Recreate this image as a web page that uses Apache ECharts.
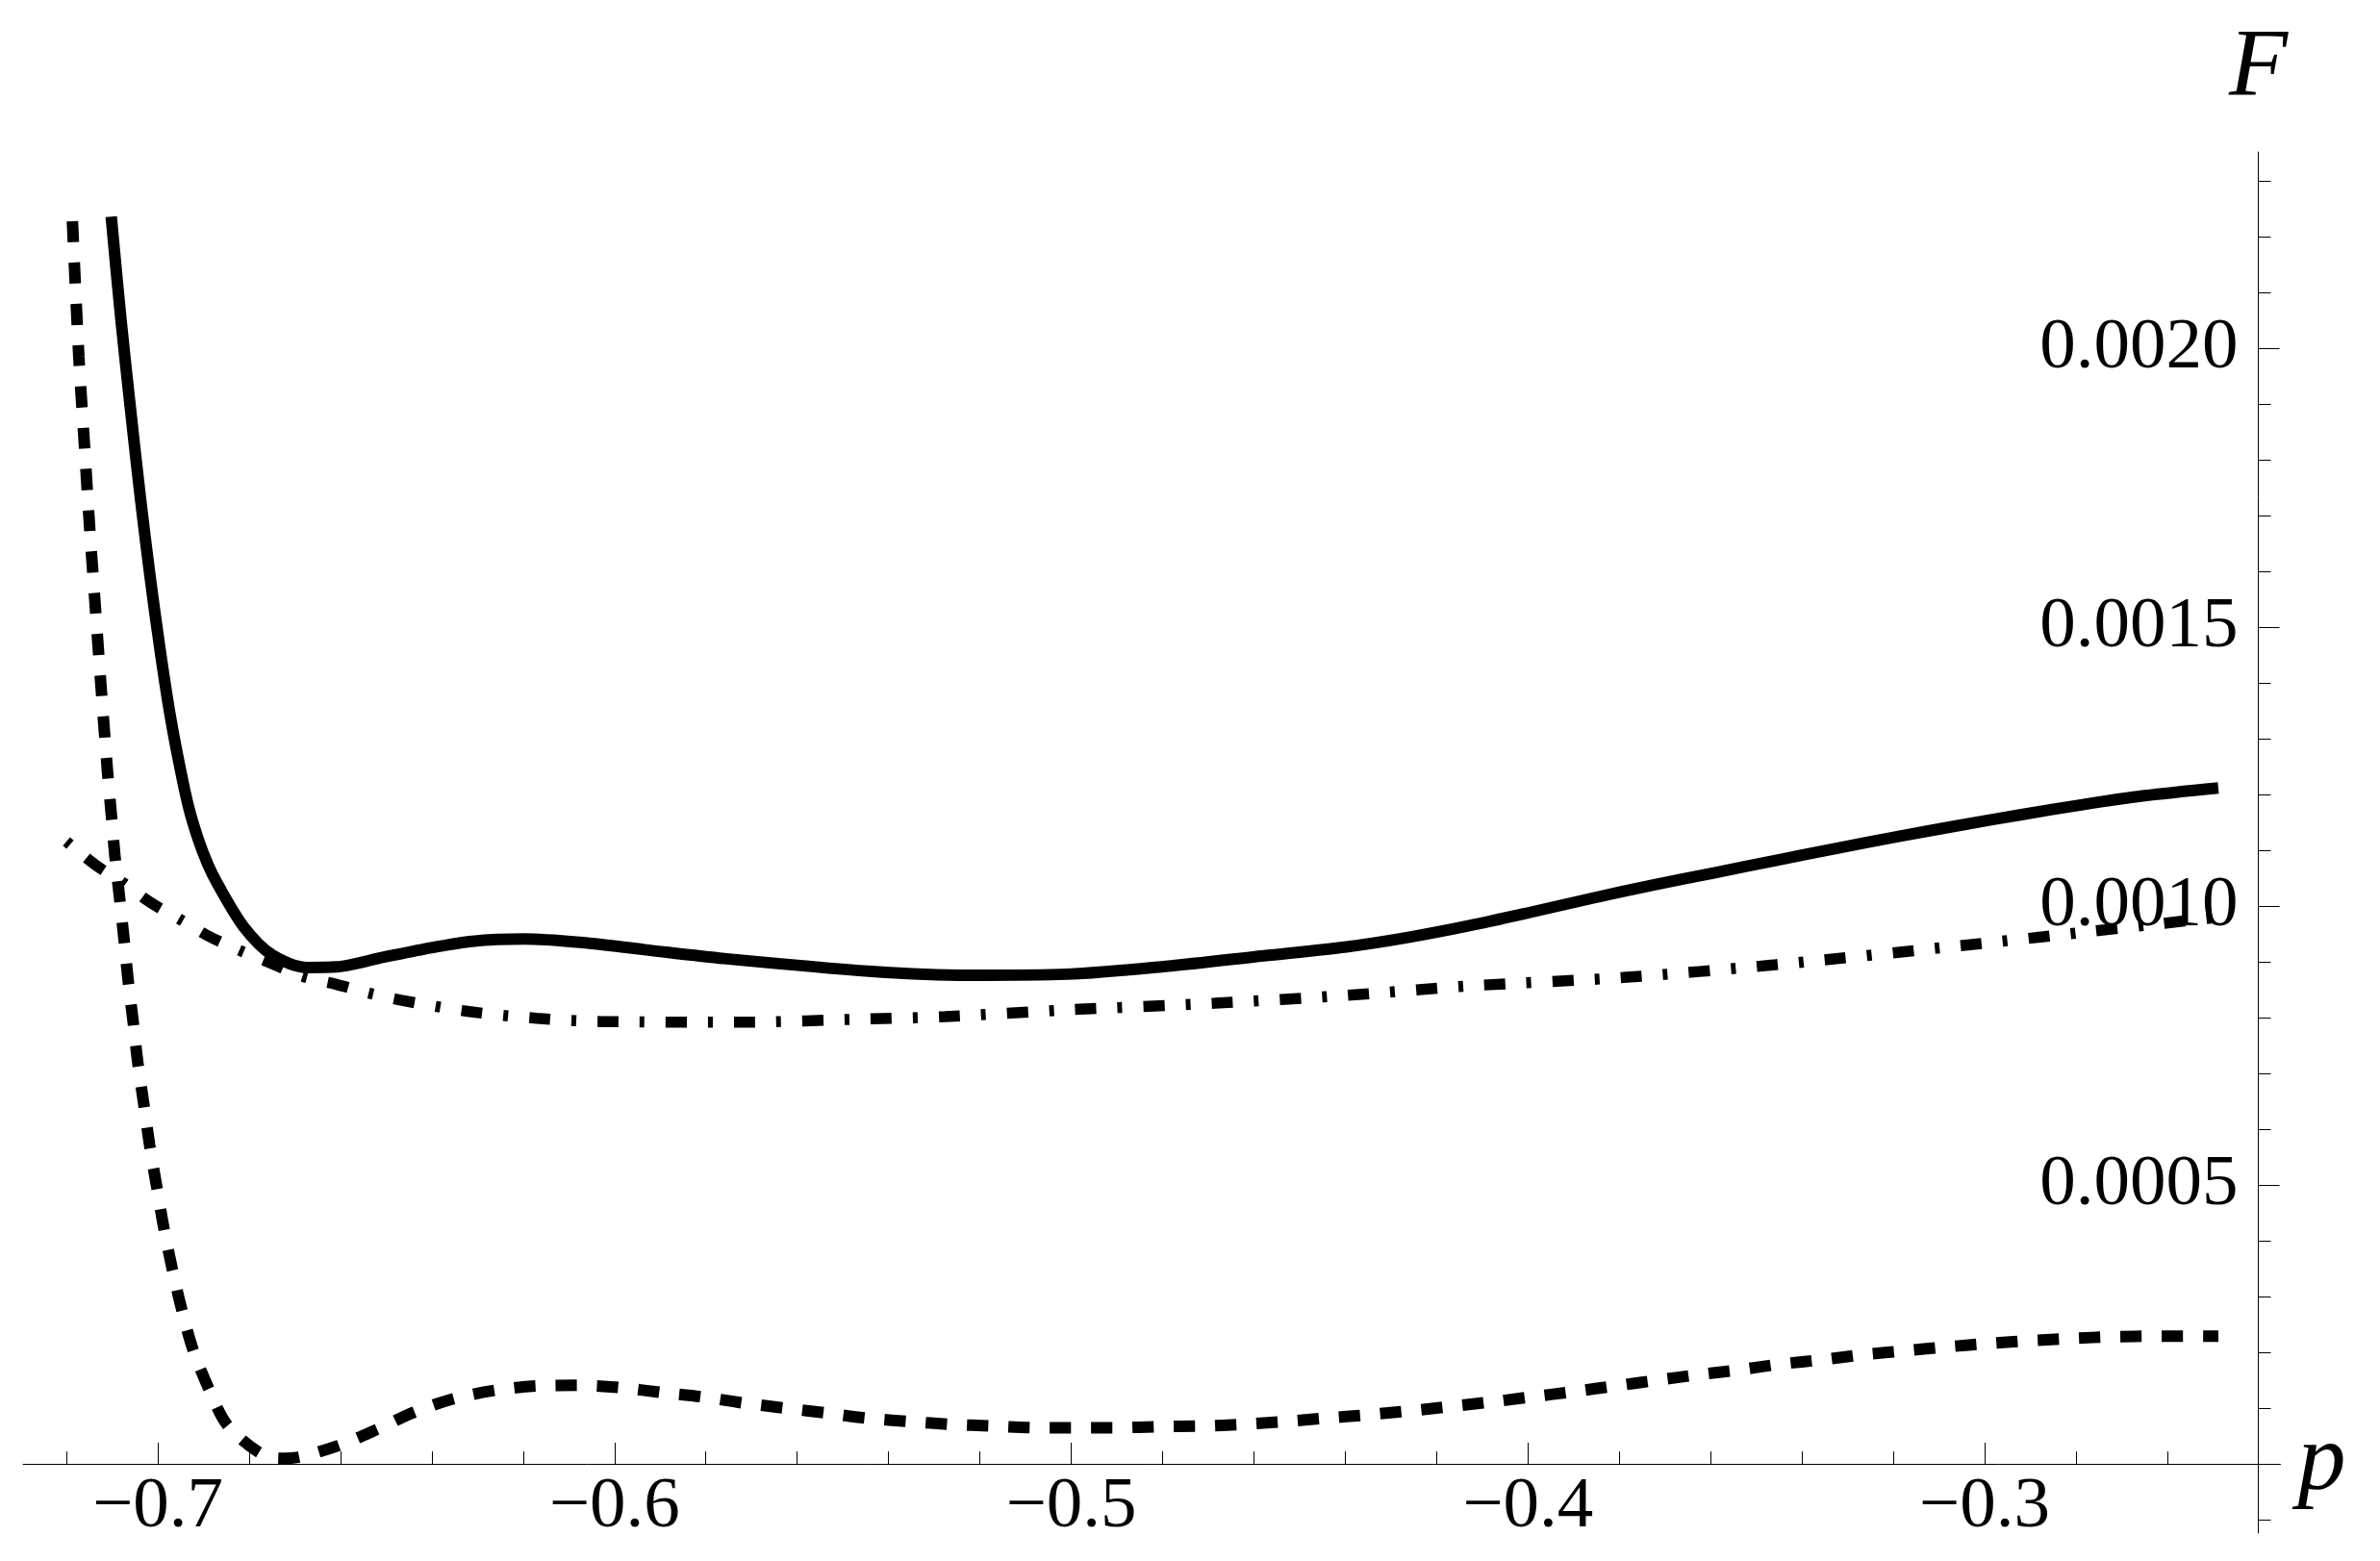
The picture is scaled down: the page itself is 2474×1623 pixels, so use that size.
<!DOCTYPE html>
<html>
<head>
<meta charset="utf-8">
<title>F versus p</title>
<script src="https://cdn.jsdelivr.net/npm/echarts@6/dist/echarts.min.js"></script>
<style>
  html, body { margin: 0; padding: 0; background: #fff; }
  #chart { width: 2474px; height: 1623px; }
</style>
</head>
<body>
<div id="chart"></div>
<script>
// values

// solid curve
var solidP = [-0.7102, -0.7081, -0.7059, -0.7038, -0.7017, -0.6996, -0.6975, -0.6954, -0.6933, -0.6912,
  -0.6891, -0.6868, -0.6812, -0.6749, -0.6672, -0.6609, -0.6503, -0.6398, -0.6312, -0.6199,
  -0.6076, -0.5935, -0.5760, -0.5437, -0.5223, -0.5008, -0.4793, -0.4578, -0.4397, -0.4262,
  -0.4128, -0.3994, -0.3860, -0.3725, -0.3590, -0.3457, -0.3322, -0.3188, -0.3053, -0.2919,
  -0.2785, -0.2650, -0.2488]
var solidF = [0.002236, 0.002054, 0.001885, 0.001731, 0.001591, 0.001465, 0.001352, 0.001259, 0.001179, 0.001121,
  0.001076, 0.001038, 0.000963, 0.000912, 0.000890, 0.000891, 0.000909, 0.000926, 0.000937, 0.000941,
  0.000935, 0.000922, 0.000906, 0.000883, 0.000876, 0.000878, 0.000892, 0.000911, 0.000927, 0.000944,
  0.000965, 0.000989, 0.001014, 0.001038, 0.001060, 0.001082, 0.001104, 0.001125, 0.001145, 0.001164,
  0.001182, 0.001198, 0.001212]

// dashed curve
var dashP = [-0.7187, -0.7173, -0.7161, -0.7150, -0.7137, -0.7124, -0.7110, -0.7102, -0.7094, -0.7084,
  -0.7074, -0.7065, -0.7054, -0.7044, -0.7031, -0.7018, -0.7003, -0.6987, -0.6969, -0.6948,
  -0.6923, -0.6889, -0.6849, -0.6781, -0.6735, -0.6693, -0.6604, -0.6520, -0.6438, -0.6352,
  -0.6261, -0.6168, -0.6078, -0.5989, -0.5897, -0.5806, -0.5716, -0.5625, -0.5534, -0.5446,
  -0.5353, -0.5263, -0.5172, -0.5080, -0.4989, -0.4898, -0.4806, -0.4715, -0.4624, -0.4532,
  -0.4443, -0.4352, -0.4260, -0.4169, -0.4081, -0.3994, -0.3897, -0.3807, -0.3718, -0.3626,
  -0.3535, -0.3446, -0.3354, -0.3263, -0.3173, -0.3081, -0.2989, -0.2901, -0.2809, -0.2718,
  -0.2627, -0.2535, -0.2488]
var dashF = [0.002228, 0.001986, 0.001831, 0.001688, 0.001538, 0.001390, 0.001240, 0.001166, 0.001091, 0.001017,
  0.000941, 0.000867, 0.000793, 0.000721, 0.000647, 0.000572, 0.000500, 0.000424, 0.000352, 0.000278,
  0.000205, 0.000136, 0.000071, 0.000022, 0.000010, 0.000012, 0.000033, 0.000062, 0.000093, 0.000117,
  0.000132, 0.000140, 0.000141, 0.000137, 0.000128, 0.000120, 0.000109, 0.000100, 0.000091, 0.000082,
  0.000076, 0.000071, 0.000068, 0.000065, 0.000065, 0.000065, 0.000067, 0.000068, 0.000071, 0.000076,
  0.000082, 0.000088, 0.000095, 0.000103, 0.000111, 0.000120, 0.000130, 0.000140, 0.000150, 0.000160,
  0.000169, 0.000179, 0.000187, 0.000196, 0.000203, 0.000210, 0.000216, 0.000221, 0.000225, 0.000228,
  0.000229, 0.000229, 0.000229]

// dot-dashed curve
var dotP = [-0.7200, -0.7137, -0.7076, -0.7015, -0.6951, -0.6886, -0.6819, -0.6750, -0.6682, -0.6610,
  -0.6537, -0.6465, -0.6318, -0.6170, -0.6028, -0.5728, -0.5437, -0.5276, -0.5008, -0.4685,
  -0.4397, -0.4128, -0.3792, -0.3457, -0.3053, -0.2785, -0.2610, -0.2500]
var dotF = [0.001116, 0.001074, 0.001042, 0.001006, 0.000976, 0.000945, 0.000920, 0.000897, 0.000874, 0.000860,
  0.000844, 0.000831, 0.000811, 0.000799, 0.000793, 0.000792, 0.000798, 0.000802, 0.000814, 0.000826,
  0.000840, 0.000857, 0.000872, 0.000895, 0.000929, 0.000953, 0.000969, 0.000979]

// tick positions
var xMajorTicks = [-0.7, -0.6, -0.5, -0.4, -0.3]
var xMinorTicks = [-0.72, -0.68, -0.66, -0.64, -0.62, -0.58, -0.56, -0.54, -0.52,
  -0.48, -0.46, -0.44, -0.42, -0.38, -0.36, -0.34, -0.32, -0.28, -0.26]
var yMajorTicks = [0.0005, 0.0010, 0.0015, 0.0020]
var yMinorTicks = [-0.0001, 0.0001, 0.0002, 0.0003, 0.0004, 0.0006, 0.0007, 0.0008, 0.0009,
  0.0011, 0.0012, 0.0013, 0.0014, 0.0016, 0.0017, 0.0018, 0.0019, 0.0021, 0.0022, 0.0023]

function zip(a, b) {
  var out = []
  for (var i = 0; i < a.length; i++) {
    out.push([a[i], b[i]])
  }
  return out
}

var FONT = 'Liberation Serif'
var xRange = [-0.7295, -0.2352]
var yRange = [-0.000124, 0.002352]
var axisColor = '#000'

var gridTop = 158
var gridBottom = 29
var gridHeight = 1623 - gridTop - gridBottom
// the p axis sits on F = 0, the F axis on p = -0.24
var xAxisOffset = -gridHeight * (0 - yRange[0]) / (yRange[1] - yRange[0])
var yAxisOffset = -23

var myChart = echarts.init(document.getElementById('chart'), null, { renderer: 'canvas' })

var option = {
  animation: false,
  backgroundColor: '#fff',
  grid: {
    left: 24,
    right: 103.5,
    top: gridTop,
    bottom: gridBottom,
    containLabel: false,
    outerBoundsMode: 'none'
  },
  xAxis: [
    {
      type: 'value',
      min: xRange[0],
      max: xRange[1],
      position: 'bottom',
      offset: xAxisOffset,
      name: 'p',
      nameLocation: 'end',
      nameGap: 18,
      nameTextStyle: { fontFamily: FONT, fontStyle: 'italic', fontSize: 100, color: '#000' },
      axisLine: { onZero: false, lineStyle: { color: axisColor, width: 1 } },
      axisTick: { inside: true, length: 22, customValues: xMajorTicks, lineStyle: { color: axisColor, width: 1 } },
      axisLabel: {
        customValues: xMajorTicks,
        margin: 8,
        fontFamily: FONT,
        fontSize: 75,
        color: '#000',
        formatter: function(v) {
          return (v < 0 ? '\u2212' : '') + Math.abs(v).toFixed(1)
        }
      },
      splitLine: { show: false }
    },
    {
      type: 'value',
      min: xRange[0],
      max: xRange[1],
      position: 'bottom',
      offset: xAxisOffset,
      axisLine: { show: false, onZero: false },
      axisTick: { inside: true, length: 13, customValues: xMinorTicks, lineStyle: { color: axisColor, width: 1 } },
      axisLabel: { show: false },
      splitLine: { show: false }
    }
  ],
  yAxis: [
    {
      type: 'value',
      min: yRange[0],
      max: yRange[1],
      position: 'right',
      offset: yAxisOffset,
      name: 'F',
      nameLocation: 'end',
      nameGap: 36,
      nameTextStyle: { fontFamily: FONT, fontStyle: 'italic', fontSize: 100, color: '#000' },
      axisLine: { show: true, onZero: false, lineStyle: { color: axisColor, width: 1 } },
      axisTick: { inside: false, length: 22, customValues: yMajorTicks, lineStyle: { color: axisColor, width: 1 } },
      axisLabel: {
        inside: true,
        customValues: yMajorTicks,
        margin: 21,
        fontFamily: FONT,
        fontSize: 75,
        color: '#000',
        formatter: function(v) {
          return v.toFixed(4)
        }
      },
      splitLine: { show: false }
    },
    {
      type: 'value',
      min: yRange[0],
      max: yRange[1],
      position: 'right',
      offset: yAxisOffset,
      axisLine: { show: false, onZero: false },
      axisTick: { inside: false, length: 13, customValues: yMinorTicks, lineStyle: { color: axisColor, width: 1 } },
      axisLabel: { show: false },
      splitLine: { show: false }
    }
  ],
  series: [
    {
      name: 'solid',
      type: 'line',
      data: zip(solidP, solidF),
      showSymbol: false,
      smooth: 0.3,
      lineStyle: { color: '#000', width: 12, type: 'solid', cap: 'butt', join: 'round' }
    },
    {
      name: 'dashed',
      type: 'line',
      data: zip(dashP, dashF),
      showSymbol: false,
      smooth: 0.3,
      lineStyle: { color: '#000', width: 12, type: [22, 21], cap: 'butt' }
    },
    {
      name: 'dotdashed',
      type: 'line',
      data: zip(dotP, dotF),
      showSymbol: false,
      smooth: 0.3,
      lineStyle: { color: '#000', width: 11.5, type: [22, 22, 5, 22], dashOffset: 44, cap: 'butt' }
    }
  ]
}

option && myChart.setOption(option)
</script>
</body>
</html>
